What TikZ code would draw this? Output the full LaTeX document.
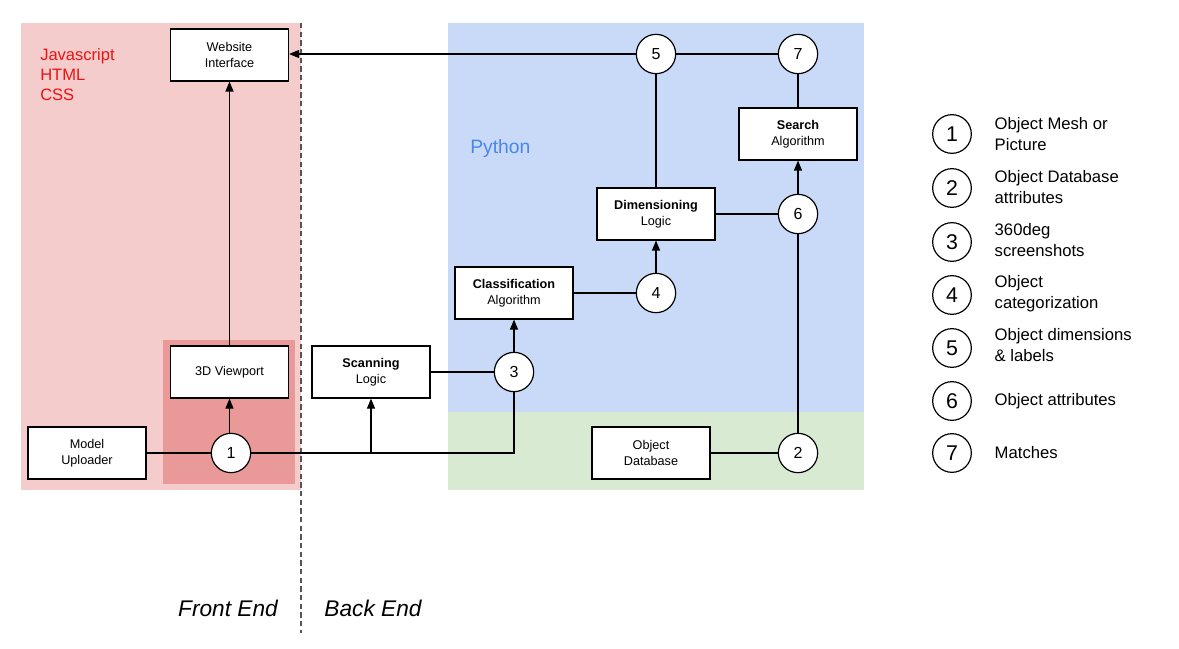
\documentclass[tikz,border=0pt]{standalone}
\usepackage{fontspec}
\setmainfont{Liberation Sans}
\usetikzlibrary{arrows.meta}
\definecolor{fepink}{HTML}{F4CCCC}
\definecolor{fedark}{HTML}{EA9999}
\definecolor{beblue}{HTML}{C9DAF8}
\definecolor{begreen}{HTML}{D9EAD3}
\definecolor{pycol}{HTML}{4A86E8}
\definecolor{jsred}{HTML}{EE1111}
\definecolor{dashgray}{HTML}{555555}
\tikzset{
  procbox/.style={draw=black, fill=white, line width=0.9pt, minimum width=88.5pt, minimum height=39pt, align=center, inner sep=1pt, font=\fontsize{9.5}{12}\selectfont},
  numcirc/.style={draw=black, fill=white, circle, line width=0.9pt, minimum size=29.5pt, inner sep=0pt, font=\fontsize{12}{14}\selectfont},
  legcirc/.style={draw=black, fill=white, circle, line width=0.9pt, minimum size=29pt, inner sep=0pt, font=\fontsize{16}{18}\selectfont},
  legtext/.style={anchor=west, align=left, font=\fontsize{12.5}{16}\selectfont},
  conn/.style={line width=0.9pt, draw=black},
  arr/.style={conn, -{Triangle[length=7.5pt,width=6pt]}},
}
\begin{document}
\begin{tikzpicture}[x=0.75pt,y=-0.75pt]
\useasboundingbox (0,0) rectangle (1179,649);
% regions
\fill[fepink] (21,23) rectangle (301,490);
\fill[fedark] (163,340) rectangle (295,484);
\fill[beblue] (448,23) rectangle (864,412);
\fill[begreen] (448,412) rectangle (864,490);
\draw[dashgray, line width=1.1pt, dash pattern=on 4pt off 2.5pt] (301,23) -- (301,633);
% region labels
\node[anchor=north west, align=left, text=jsred, font=\fontsize{12.4}{15}\selectfont, inner sep=0pt] (lang) at (40,48) {Javascript\\HTML\\CSS};
\node[anchor=west, text=pycol, font=\fontsize{14.5}{17}\selectfont, inner sep=0pt] (py) at (470,149) {Python};
\node[font=\itshape\fontsize{17}{20}\selectfont] (fe) at (228,608) {Front End};
\node[font=\itshape\fontsize{17}{20}\selectfont] (be) at (373,608) {Back End};
% boxes
\node[procbox] (web) at (229.5,55) {Website\\Interface};
\node[procbox] (view) at (229.5,372) {3D Viewport};
\node[procbox] (upl) at (87,453) {Model\\Uploader};
\node[procbox] (scan) at (371,372) {\textbf{Scanning}\\Logic};
\node[procbox] (cls) at (514,293) {\textbf{Classification}\\Algorithm};
\node[procbox] (dim) at (656,214) {\textbf{Dimensioning}\\Logic};
\node[procbox] (srch) at (798,134) {\textbf{Search}\\Algorithm};
\node[procbox] (db) at (651,453) {Object\\Database};
% numbered circles
\node[numcirc] (c1) at (231,453) {1};
\node[numcirc] (c2) at (798,453) {2};
\node[numcirc] (c3) at (514,372) {3};
\node[numcirc] (c4) at (656,293) {4};
\node[numcirc] (c5) at (656,54) {5};
\node[numcirc] (c6) at (798,214) {6};
\node[numcirc] (c7) at (798,54) {7};
% connectors
\draw[conn] (upl) -- (c1);
\draw[arr] (view.south |- c1.north) -- (view.south);
\draw[arr] (view) -- (web);
\coordinate (jn) at (scan.south |- c1);
\draw[conn] (c1.east) -- (c3.south |- c1) -- (c3.south);
\draw[arr] (jn) -- (scan.south);
\draw[conn] (scan) -- (c3);
\draw[arr] (c3) -- (cls);
\draw[conn] (cls) -- (c4);
\draw[arr] (c4) -- (dim);
\draw[conn] (dim) -- (c6);
\draw[conn] (dim) -- (c5);
\draw[arr] (c6) -- (srch);
\draw[conn] (c2) -- (c6);
\draw[conn] (db) -- (c2);
\draw[conn] (srch) -- (c7);
\draw[conn] (c7) -- (c5);
\draw[arr] (c5.west) -- (web.east |- c5);
% legend
\node[legcirc] (l1) at (952,134) {1};
\node[legcirc] (l2) at (952,188) {2};
\node[legcirc] (l3) at (952,242) {3};
\node[legcirc] (l4) at (952,295) {4};
\node[legcirc] (l5) at (952,348) {5};
\node[legcirc] (l6) at (952,401) {6};
\node[legcirc] (l7) at (952,453) {7};
\node[legtext] (t1) at (990,134) {Object Mesh or\\Picture};
\node[legtext] (t2) at (990,187) {Object Database\\attributes};
\node[legtext] (t3) at (990,240) {360deg\\screenshots};
\node[legtext] (t4) at (990,294) {Object\\categorization};
\node[legtext] (t5) at (990,345) {Object dimensions\\\& labels};
\node[legtext] (t6) at (990,401) {Object attributes};
\node[legtext] (t7) at (990,453) {Matches};
\end{tikzpicture}
\end{document}
